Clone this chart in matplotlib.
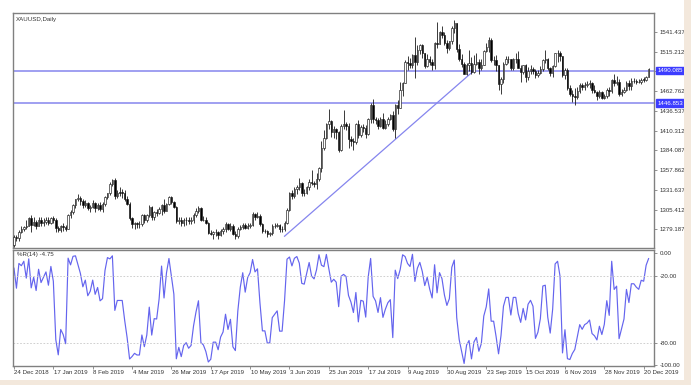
import numpy as np
import pandas as pd
import matplotlib
matplotlib.use("Agg")
import matplotlib.pyplot as plt
from matplotlib.patches import Rectangle

# ---------------- data (XAUUSD daily, 24 Dec 2018 - 24 Dec 2019) ----------------
opens = [1258, 1269, 1267, 1276, 1280,
         1282, 1284, 1294, 1285, 1289, 1284, 1292, 1287, 1289, 1291, 1288, 1294, 1292, 1281, 1278, 1283, 1282, 1280, 1298, 1302, 1312, 1319,
         1321, 1317, 1311, 1314, 1307, 1309, 1314, 1308, 1311, 1306, 1313, 1322, 1327, 1340, 1345, 1324, 1328, 1328, 1328, 1320,
         1313, 1294, 1286, 1287, 1286, 1286, 1298, 1291, 1298, 1309, 1295, 1302, 1301, 1306, 1311, 1304, 1313, 1322, 1315, 1309, 1290,
         1292, 1287, 1291, 1292, 1290, 1291, 1298, 1303, 1307, 1292, 1291, 1288, 1274, 1273, 1275, 1275, 1272, 1277, 1279, 1286, 1280,
         1284, 1273, 1270, 1280, 1282, 1285, 1281, 1284, 1285, 1300, 1296, 1297, 1286, 1277, 1277, 1273, 1274, 1283, 1284, 1285, 1279, 1279, 1288,
         1305, 1327, 1324, 1333, 1336, 1341, 1327, 1327, 1335, 1342, 1341, 1339, 1346, 1361, 1387, 1400, 1419, 1423, 1409, 1412,
         1409, 1385, 1417, 1419, 1417, 1399, 1397, 1395, 1419, 1404, 1415, 1414, 1406, 1426, 1444, 1426, 1424, 1417, 1426, 1414, 1419, 1426, 1431,
         1413, 1445, 1441, 1464, 1474, 1501, 1500, 1497, 1511, 1501, 1517, 1524, 1513, 1496, 1506, 1502, 1497, 1527, 1526, 1542, 1538, 1527,
         1520, 1529, 1547, 1553, 1519, 1506, 1499, 1486, 1497, 1500, 1488, 1499, 1502, 1493, 1498, 1516, 1522, 1531, 1504, 1504, 1497,
         1472, 1479, 1499, 1505, 1505, 1493, 1505, 1505, 1494, 1488, 1497, 1482, 1490, 1492, 1489, 1484, 1487, 1492, 1504, 1505, 1493, 1487, 1496,
         1513, 1514, 1509, 1484, 1491, 1467, 1459, 1456, 1455, 1463, 1471, 1468, 1471, 1472, 1474, 1465, 1462, 1456, 1462, 1454, 1457,
         1464, 1463, 1477, 1474, 1475, 1459, 1462, 1465, 1474, 1470, 1476, 1476, 1475, 1475, 1478, 1478, 1482]
highs = [1271, 1272, 1278, 1283, 1284,
         1292, 1296, 1298, 1295, 1291, 1295, 1295, 1294, 1295, 1295, 1296, 1297, 1294, 1284, 1285, 1287, 1285, 1299, 1305, 1313, 1320, 1326,
         1324, 1319, 1318, 1316, 1312, 1318, 1316, 1314, 1315, 1316, 1324, 1328, 1342, 1346, 1347, 1331, 1336, 1333, 1331, 1324,
         1315, 1296, 1289, 1289, 1290, 1300, 1299, 1299, 1311, 1310, 1303, 1306, 1309, 1313, 1320, 1314, 1324, 1323, 1317, 1310, 1296,
         1296, 1294, 1295, 1296, 1296, 1301, 1307, 1310, 1309, 1297, 1295, 1289, 1278, 1277, 1279, 1277, 1280, 1282, 1289, 1288, 1287,
         1286, 1277, 1282, 1285, 1287, 1287, 1287, 1288, 1302, 1301, 1302, 1299, 1288, 1280, 1278, 1276, 1286, 1287, 1287, 1286, 1284, 1290, 1307,
         1329, 1331, 1336, 1338, 1348, 1342, 1333, 1337, 1346, 1358, 1343, 1354, 1362, 1397, 1411, 1420, 1439, 1425, 1416, 1414,
         1410, 1419, 1438, 1422, 1420, 1403, 1401, 1420, 1425, 1418, 1419, 1418, 1427, 1447, 1453, 1428, 1427, 1428, 1434, 1424, 1428, 1433, 1437,
         1446, 1451, 1475, 1475, 1504, 1510, 1507, 1512, 1535, 1524, 1525, 1526, 1514, 1512, 1510, 1505, 1528, 1555, 1543, 1550, 1541, 1531,
         1530, 1549, 1557, 1553, 1526, 1512, 1502, 1500, 1517, 1508, 1511, 1513, 1506, 1506, 1518, 1527, 1535, 1534, 1510, 1511, 1498,
         1481, 1502, 1509, 1510, 1506, 1507, 1514, 1516, 1498, 1498, 1499, 1495, 1497, 1495, 1492, 1491, 1496, 1505, 1517, 1507, 1495, 1497, 1514,
         1517, 1516, 1510, 1494, 1494, 1471, 1464, 1467, 1468, 1474, 1473, 1475, 1476, 1478, 1475, 1471, 1463, 1464, 1463, 1459, 1467,
         1468, 1479, 1485, 1483, 1479, 1466, 1468, 1476, 1478, 1480, 1480, 1479, 1479, 1480, 1481, 1483, 1494]
lows = [1256, 1263, 1264, 1274, 1277,
        1279, 1283, 1276, 1284, 1279, 1283, 1284, 1284, 1286, 1285, 1286, 1288, 1276, 1276, 1276, 1277, 1277, 1279, 1294, 1300, 1308, 1317,
        1312, 1308, 1309, 1305, 1302, 1308, 1302, 1305, 1303, 1302, 1310, 1320, 1325, 1337, 1320, 1321, 1324, 1321, 1317, 1311,
        1291, 1281, 1280, 1281, 1281, 1283, 1288, 1289, 1296, 1292, 1291, 1297, 1299, 1298, 1301, 1303, 1312, 1313, 1307, 1288, 1286,
        1284, 1284, 1285, 1286, 1286, 1288, 1295, 1301, 1290, 1290, 1286, 1273, 1271, 1266, 1270, 1266, 1270, 1273, 1276, 1278, 1277,
        1271, 1266, 1267, 1278, 1279, 1279, 1280, 1281, 1283, 1292, 1294, 1284, 1274, 1274, 1269, 1270, 1272, 1281, 1282, 1276, 1275, 1277, 1286,
        1303, 1319, 1321, 1326, 1332, 1323, 1323, 1326, 1332, 1338, 1336, 1333, 1343, 1356, 1384, 1399, 1412, 1402, 1400, 1399,
        1382, 1383, 1412, 1411, 1387, 1390, 1385, 1392, 1401, 1402, 1409, 1400, 1405, 1420, 1421, 1419, 1412, 1415, 1412, 1413, 1416, 1424, 1410,
        1400, 1432, 1440, 1457, 1473, 1491, 1493, 1494, 1480, 1498, 1512, 1507, 1493, 1495, 1498, 1491, 1492, 1520, 1526, 1534, 1524, 1513,
        1518, 1525, 1540, 1515, 1503, 1495, 1485, 1484, 1489, 1486, 1487, 1497, 1486, 1491, 1497, 1515, 1515, 1502, 1498, 1490, 1465,
        1459, 1474, 1498, 1500, 1491, 1491, 1500, 1493, 1475, 1486, 1475, 1478, 1486, 1485, 1480, 1481, 1485, 1489, 1500, 1491, 1483, 1482, 1495,
        1502, 1503, 1481, 1479, 1464, 1456, 1449, 1445, 1452, 1461, 1464, 1464, 1468, 1467, 1461, 1460, 1451, 1454, 1452, 1452, 1454,
        1456, 1461, 1470, 1471, 1457, 1457, 1461, 1463, 1464, 1465, 1473, 1472, 1473, 1472, 1475, 1476, 1481]
closes = [1269, 1267, 1276, 1280, 1282,
          1284, 1294, 1285, 1289, 1284, 1292, 1287, 1289, 1291, 1288, 1294, 1292, 1281, 1278, 1283, 1282, 1280, 1298, 1302, 1312, 1319, 1321,
          1317, 1311, 1314, 1307, 1309, 1314, 1308, 1311, 1306, 1313, 1322, 1327, 1340, 1345, 1324, 1328, 1328, 1328, 1320, 1313,
          1294, 1286, 1287, 1286, 1286, 1298, 1291, 1298, 1309, 1295, 1302, 1301, 1306, 1311, 1304, 1313, 1322, 1315, 1309, 1290, 1292,
          1287, 1291, 1292, 1290, 1291, 1298, 1303, 1307, 1292, 1291, 1288, 1274, 1273, 1275, 1275, 1272, 1277, 1279, 1286, 1280, 1284,
          1273, 1270, 1280, 1282, 1285, 1281, 1284, 1285, 1300, 1296, 1297, 1286, 1277, 1277, 1273, 1274, 1283, 1284, 1285, 1279, 1279, 1288, 1305,
          1327, 1324, 1333, 1336, 1341, 1327, 1327, 1335, 1342, 1341, 1339, 1346, 1361, 1387, 1400, 1419, 1423, 1409, 1412, 1409,
          1385, 1417, 1419, 1417, 1399, 1397, 1395, 1419, 1404, 1415, 1414, 1406, 1426, 1444, 1426, 1424, 1417, 1426, 1414, 1419, 1426, 1431, 1413,
          1445, 1441, 1464, 1474, 1501, 1500, 1497, 1511, 1501, 1517, 1524, 1513, 1496, 1506, 1502, 1497, 1527, 1526, 1542, 1538, 1527, 1520,
          1529, 1547, 1553, 1519, 1506, 1499, 1486, 1497, 1500, 1488, 1499, 1502, 1493, 1498, 1516, 1522, 1531, 1504, 1504, 1497, 1472,
          1479, 1499, 1505, 1505, 1493, 1505, 1505, 1494, 1488, 1497, 1482, 1490, 1492, 1489, 1484, 1487, 1492, 1504, 1505, 1493, 1487, 1496, 1513,
          1514, 1509, 1484, 1491, 1467, 1459, 1456, 1455, 1463, 1471, 1468, 1471, 1472, 1474, 1465, 1462, 1456, 1462, 1454, 1457, 1464,
          1463, 1477, 1474, 1475, 1459, 1462, 1465, 1474, 1470, 1476, 1476, 1475, 1475, 1478, 1478, 1482, 1492.242]

date_labels = ["24 Dec 2018", "17 Jan 2019", "8 Feb 2019", "4 Mar 2019", "26 Mar 2019",
               "17 Apr 2019", "10 May 2019", "3 Jun 2019", "25 Jun 2019", "17 Jul 2019",
               "9 Aug 2019", "30 Aug 2019", "23 Sep 2019", "15 Oct 2019", "6 Nov 2019",
               "28 Nov 2019", "20 Dec 2019"]
date_label_bars = [0, 16, 32, 48, 64, 80, 96, 112, 128, 144, 160, 176, 192, 208, 224, 240, 256]

price_ticks = [1279.187, 1305.412, 1331.637, 1357.862, 1384.087, 1410.312,
               1436.537, 1462.762, 1488.987, 1515.212, 1541.437]
hlines = [1490.085, 1446.853]
trend_bars = [110, 187]
trend_prices = [1270.0, 1490.085]
wpr_ticks = [0, -20, -80, -100]
wpr_period = 14
symbol_title = "XAUUSD,Daily"

# ---------------- figure ----------------
plt.rcParams["font.family"] = ["Liberation Sans", "DejaVu Sans"]
FS = 4.4
W, H = 691, 385
fig = plt.figure(figsize=(W / 100, H / 100), dpi=100, facecolor="white")
BLUE = "#3c3cff"
LINEBLUE = "#8585ee"
FRAME = "#808080"
TXT = "#333333"

# beige outer strips
fig.patches.append(Rectangle((0, 0), 1, 5 / H, transform=fig.transFigure,
                             facecolor="#f3e8dc", edgecolor="none", zorder=0))
fig.patches.append(Rectangle((684 / W, 0), 7 / W, 1, transform=fig.transFigure,
                             facecolor="#f3e8dc", edgecolor="none", zorder=0))

L, R = 13, 654
ax1 = fig.add_axes([L / W, 1 - 247.5 / H, (R - L) / W, (247.5 - 13) / H])
ax2 = fig.add_axes([L / W, 1 - 366 / H, (R - L) / W, (366 - 249.5) / H])

n = len(closes)
x = np.arange(n)
o = np.array(opens, float)
h = np.array(highs, float)
lo = np.array(lows, float)
c = np.array(closes, float)

# candles
ax1.vlines(x, lo, h, color="#1a1a1a", linewidth=0.6, zorder=3)
bw = 0.6
for i in range(n):
    bottom = min(o[i], c[i])
    height = max(abs(c[i] - o[i]), 0.4)
    fc = "white" if c[i] > o[i] else "black"
    ax1.add_patch(Rectangle((x[i] - bw / 2, bottom), bw, height, facecolor=fc,
                            edgecolor="#1a1a1a", linewidth=0.45, zorder=4))

for hv in hlines:
    ax1.axhline(hv, color=LINEBLUE, linewidth=1.1, zorder=2)
ax1.plot(trend_bars, trend_prices, color=LINEBLUE, linewidth=0.9, zorder=2)

xlim = (-0.4, 260.2)
ax1.set_xlim(*xlim)
ax1.set_ylim(1255.0, 1566.7)
ax1.text(0.004, 0.985, symbol_title, transform=ax1.transAxes, fontsize=FS,
         va="top", ha="left", color=TXT)

ax1.yaxis.tick_right()
ax1.set_yticks(price_ticks)
lbls = []
for p in price_ticks:
    if abs(p - 1488.987) < 0.01:
        lbls.append("")
    else:
        lbls.append(f"{p:.3f}")
ax1.set_yticklabels(lbls)
ax1.tick_params(axis="y", length=2.5, width=0.6, colors=FRAME, labelsize=FS,
                labelcolor=TXT, pad=1.5)
ax1.set_xticks([])
for hv in hlines:
    ax1.text(1.005, hv, f"{hv:.3f}", transform=ax1.get_yaxis_transform(),
             fontsize=FS, color="white", va="center", ha="left", zorder=10,
             bbox=dict(boxstyle="square,pad=0.2", facecolor=BLUE, edgecolor=BLUE),
             clip_on=False)

# Williams %R
s_h = pd.Series(h).rolling(wpr_period, min_periods=1).max()
s_l = pd.Series(lo).rolling(wpr_period, min_periods=1).min()
wpr = ((s_h - pd.Series(c)) / (s_h - s_l) * -100).to_numpy()
ax2.plot(x, wpr, color="#6464ee", linewidth=0.85)
for lv in (-20, -80):
    ax2.axhline(lv, color="#c8c8c8", linewidth=0.6, linestyle=(0, (2, 2)))
ax2.set_xlim(*xlim)
ax2.set_ylim(-100.9, 3.4)
ax2.yaxis.tick_right()
ax2.set_yticks(wpr_ticks)
ax2.set_yticklabels([f"{v:.2f}" for v in wpr_ticks])
ax2.tick_params(axis="y", length=2.5, width=0.6, colors=FRAME, labelsize=FS,
                labelcolor=TXT, pad=1.5)
ax2.text(0.006, 0.975, f"%R({wpr_period}) {wpr[-1]:.2f}", transform=ax2.transAxes,
         fontsize=FS, va="top", ha="left", color=TXT)

ax2.set_xticks(date_label_bars)
ax2.set_xticklabels([])
ax2.tick_params(axis="x", length=2.5, width=0.6, colors=FRAME)
for b, lab in zip(date_label_bars, date_labels):
    ax2.text(b + 0.2, -0.035, lab, transform=ax2.get_xaxis_transform(),
             fontsize=FS, ha="left", va="top", color=TXT, clip_on=False)

for ax in (ax1, ax2):
    ax.set_facecolor("white")
    for sp in ax.spines.values():
        sp.set_color(FRAME)
        sp.set_linewidth(1.0)

fig.savefig("out.png", dpi=100, facecolor=fig.get_facecolor())
